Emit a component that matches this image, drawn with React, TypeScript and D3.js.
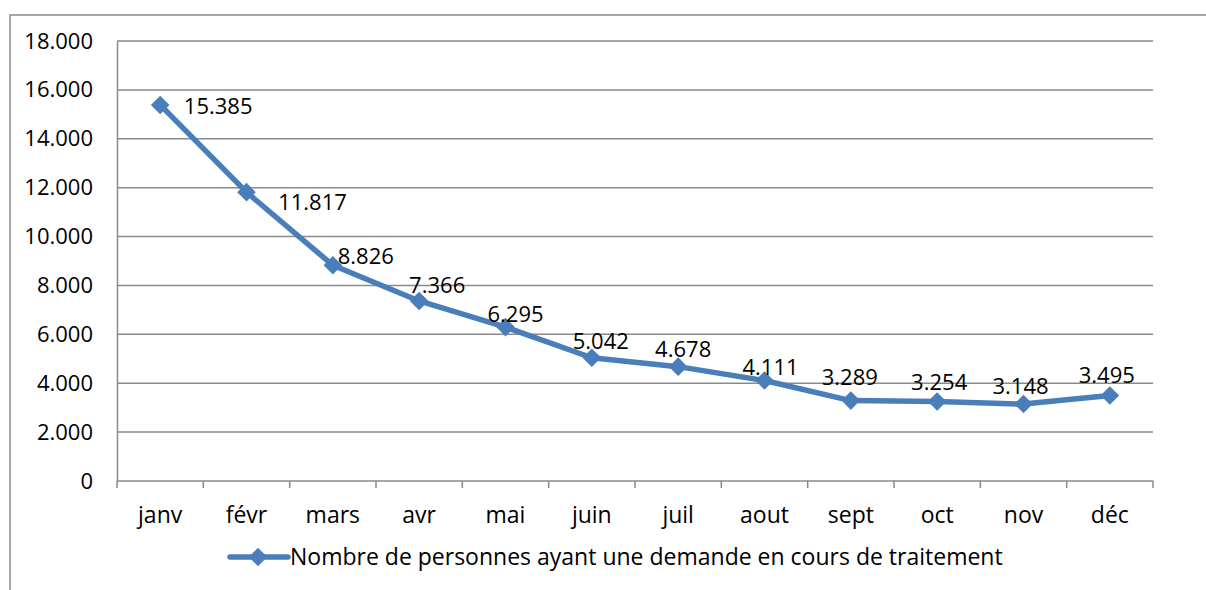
import * as React from 'react';
import * as d3 from 'd3';

const months = ['janv', 'févr', 'mars', 'avr', 'mai', 'juin', 'juil', 'aout', 'sept', 'oct', 'nov', 'déc'];
const values = [15385, 11817, 8826, 7366, 6295, 5042, 4678, 4111, 3289, 3254, 3148, 3495];
const yTicks = [0, 2000, 4000, 6000, 8000, 10000, 12000, 14000, 16000, 18000];
const seriesName = 'Nombre de personnes ayant une demande en cours de traitement';

// label centre offsets from each point (as placed in the original)
const labelOffsets: [number, number][] = [
    [58, 1], [66, 10], [33, -9], [18, -16], [10, -13], [9, -16],
    [5, -17], [6, -13], [-1, -23], [2, -19], [-3, -18], [-3, -20]
];

const W = 1206;
const H = 590;
const FONT = '"Open Sans", Lato, sans-serif';
const FS = 22;   // numbers
const FS_TXT = 23; // words
const BLUE = '#4a7ebb';
const GRID = '#8a8a8a';

export default function App() {
    const ref = React.useRef<SVGSVGElement>(null);

    React.useEffect(() => {
        const svg = d3.select(ref.current);
        svg.selectAll('*').remove();

        const margin = { top: 41, left: 117, right: W - 1153, bottom: H - 481 };

        const xScale = d3.scaleBand<string>()
            .domain(months)
            .range([margin.left, W - margin.right]);

        const yScale = d3.scaleLinear()
            .domain([0, 18000])
            .range([H - margin.bottom, margin.top]);

        const fmt = (v: number) => d3.format(',')(v).replace(/,/g, '.');

        // outer chart frame
        svg.append('path')
            .attr('d', `M10,${H} L10,15 L${W},15`)
            .attr('fill', 'none')
            .attr('stroke', GRID)
            .attr('stroke-width', 1.5);

        // grid lines
        svg.append('g')
            .selectAll('line')
            .data(yTicks.filter(t => t > 0))
            .enter()
            .append('line')
            .attr('x1', margin.left)
            .attr('x2', W - margin.right)
            .attr('y1', d => yScale(d))
            .attr('y2', d => yScale(d))
            .attr('stroke', GRID)
            .attr('stroke-width', 1.5);

        // y axis
        const axisLeft = svg.append('g')
            .attr('transform', 'translate(' + margin.left + ',0)')
            .call(d3.axisLeft(yScale).tickValues(yTicks).tickSize(0).tickPadding(24)
                .tickFormat(d => fmt(+d)));
        axisLeft.select('.domain').attr('stroke', GRID).attr('stroke-width', 1.5);
        axisLeft.selectAll('text')
            .attr('font-family', FONT)
            .attr('font-size', FS)
            .attr('fill', '#000');

        // x axis
        const x0 = H - margin.bottom;
        const axisBottom = svg.append('g');
        axisBottom.append('line')
            .attr('x1', margin.left).attr('x2', W - margin.right)
            .attr('y1', x0).attr('y2', x0)
            .attr('stroke', GRID).attr('stroke-width', 1.5);
        const bounds = months.map(m => xScale(m) as number).concat([W - margin.right]);
        axisBottom.selectAll('.tk')
            .data(bounds)
            .enter()
            .append('line')
            .attr('class', 'tk')
            .attr('x1', d => d).attr('x2', d => d)
            .attr('y1', x0).attr('y2', x0 + 7)
            .attr('stroke', GRID).attr('stroke-width', 1.5);
        axisBottom.selectAll('text')
            .data(months)
            .enter()
            .append('text')
            .attr('x', d => (xScale(d) as number) + xScale.bandwidth() / 2)
            .attr('y', 523)
            .attr('text-anchor', 'middle')
            .attr('font-family', FONT)
            .attr('font-size', FS_TXT)
            .attr('fill', '#000')
            .text(d => d);

        const px = (i: number) => (xScale(months[i]) as number) + xScale.bandwidth() / 2;
        const py = (i: number) => yScale(values[i]);

        const line = d3.line<number>()
            .x((d, i) => px(i))
            .y(d => yScale(d));

        svg.append('path')
            .datum(values)
            .attr('d', line)
            .attr('fill', 'none')
            .attr('stroke', BLUE)
            .attr('stroke-width', 5.5)
            .attr('stroke-linejoin', 'round');

        const diamond = d3.symbol().type(d3.symbolDiamond2).size(220);

        svg.append('g')
            .selectAll('path')
            .data(values)
            .enter()
            .append('path')
            .attr('d', diamond)
            .attr('transform', (d, i) => `translate(${px(i)},${py(i)})`)
            .attr('fill', BLUE);

        svg.append('g')
            .selectAll('text')
            .data(values)
            .enter()
            .append('text')
            .attr('x', (d, i) => px(i) + labelOffsets[i][0])
            .attr('y', (d, i) => py(i) + labelOffsets[i][1])
            .attr('dy', '0.35em')
            .attr('text-anchor', 'middle')
            .attr('font-family', FONT)
            .attr('font-size', FS)
            .attr('fill', '#000')
            .text(d => fmt(d));

        // legend
        const ly = 557;
        svg.append('line')
            .attr('x1', 230).attr('x2', 288)
            .attr('y1', ly).attr('y2', ly)
            .attr('stroke', BLUE).attr('stroke-width', 5.5)
            .attr('stroke-linecap', 'round');
        svg.append('path')
            .attr('d', diamond)
            .attr('transform', `translate(258,${ly})`)
            .attr('fill', BLUE);
        svg.append('text')
            .attr('x', 290)
            .attr('y', ly)
            .attr('dy', '0.35em')
            .attr('font-family', FONT)
            .attr('font-size', FS_TXT)
            .attr('fill', '#000')
            .text(seriesName);
    }, []);

    return (
        <svg ref={ref} width={W} height={H}
            style={{ position: 'absolute', left: 0, top: 0, background: '#fff' }} />
    );
}
